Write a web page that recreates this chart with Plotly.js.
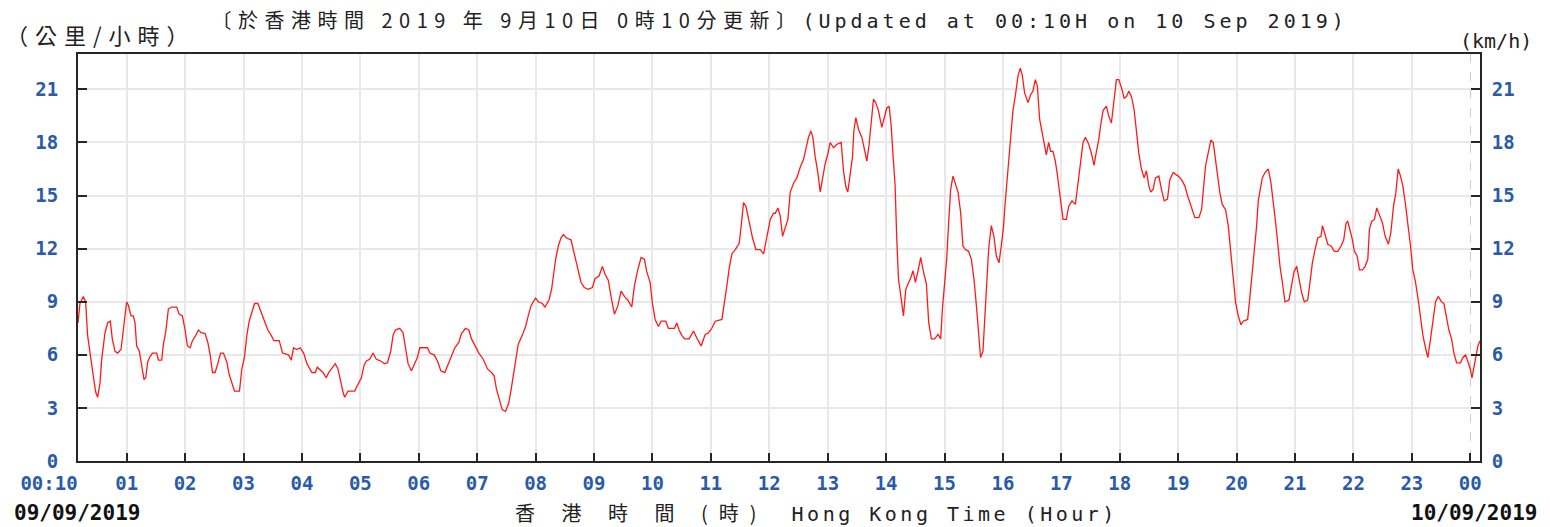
<!DOCTYPE html>
<html>
<head>
<meta charset="utf-8">
<script src="https://cdn.plot.ly/plotly-3.0.1.min.js"></script>
<style>
  html, body { margin: 0; padding: 0; background: #ffffff; }
  #chart { width: 1550px; height: 527px; }
</style>
</head>
<body>
<div id="chart"></div>
<script>
// Wind speed (km/h) vs Hong Kong time (decimal hours from 00:00 on 09/09/2019)
const hour00to04 = [[0.167,7.8],[0.2,8.9],[0.257,9.3],[0.297,9.0],[0.331,7.1],[0.383,6.0],[0.429,4.8],[0.469,3.9],[0.503,3.6],[0.543,4.4],[0.571,5.7],[0.629,7.25],[0.674,7.8],[0.72,7.9],[0.754,6.9],[0.8,6.2],[0.846,6.1],[0.903,6.3],[0.943,7.4],[0.971,8.4],[1.0,9.0],[1.029,8.8],[1.074,8.2],[1.114,8.2],[1.143,7.8],[1.171,6.5],[1.217,6.2],[1.257,5.4],[1.297,4.6],[1.326,4.7],[1.36,5.6],[1.4,5.9],[1.44,6.1],[1.514,6.1],[1.543,5.7],[1.6,5.7],[1.629,6.6],[1.669,7.3],[1.714,8.6],[1.771,8.7],[1.857,8.7],[1.897,8.3],[1.954,8.2],[2.0,7.4],[2.04,6.5],[2.086,6.4],[2.126,6.8],[2.183,7.1],[2.229,7.4],[2.274,7.25],[2.343,7.2],[2.389,6.7],[2.429,6.0],[2.469,5.0],[2.514,5.0],[2.56,5.5],[2.606,6.1],[2.657,6.1],[2.714,5.6],[2.754,4.9],[2.8,4.4],[2.846,3.95],[2.931,3.95],[2.971,5.2],[3.017,5.9],[3.057,7.1],[3.097,7.9],[3.143,8.4],[3.189,8.9],[3.246,8.9],[3.286,8.6],[3.326,8.2],[3.371,7.8],[3.417,7.4],[3.474,7.1],[3.52,6.8],[3.611,6.8],[3.669,6.1],[3.771,6.0],[3.817,5.7],[3.857,6.4],[3.914,6.3],[3.971,6.4],[4.029,6.1],[4.086,5.5],[4.171,5.0],[4.229,5.0]];
const hour04to08 = [[4.263,5.3],[4.36,5.0],[4.417,4.7],[4.457,5.0],[4.531,5.3],[4.571,5.5],[4.617,5.2],[4.663,4.4],[4.703,3.9],[4.731,3.6],[4.789,3.95],[4.903,3.95],[4.96,4.3],[5.017,4.7],[5.063,5.4],[5.103,5.65],[5.16,5.75],[5.217,6.1],[5.274,5.75],[5.349,5.65],[5.417,5.5],[5.463,5.55],[5.52,6.2],[5.56,7.1],[5.6,7.4],[5.674,7.5],[5.731,7.25],[5.771,6.5],[5.817,5.5],[5.874,5.1],[5.931,5.5],[5.977,5.85],[6.017,6.4],[6.074,6.4],[6.149,6.4],[6.189,6.1],[6.263,6.0],[6.32,5.65],[6.377,5.1],[6.446,5.0],[6.503,5.5],[6.56,6.0],[6.617,6.4],[6.686,6.7],[6.731,7.2],[6.8,7.5],[6.857,7.4],[6.903,6.9],[6.96,6.5],[7.029,6.1],[7.103,5.75],[7.177,5.2],[7.246,5.0],[7.291,4.8],[7.331,4.05],[7.371,3.6],[7.429,2.9],[7.486,2.8],[7.543,3.3],[7.589,4.2],[7.646,5.55],[7.703,6.6],[7.771,7.1],[7.829,7.6],[7.874,8.2],[7.92,8.75],[7.96,9.0],[8.0,9.2],[8.046,9.0],[8.114,8.9],[8.16,8.7]];
const hour08to12 = [[8.229,9.1],[8.274,9.7],[8.303,10.45],[8.343,11.4],[8.389,12.15],[8.434,12.6],[8.474,12.8],[8.531,12.6],[8.606,12.5],[8.646,11.95],[8.686,11.5],[8.731,10.8],[8.777,10.1],[8.834,9.8],[8.903,9.7],[8.971,9.8],[9.017,10.3],[9.086,10.45],[9.143,11.0],[9.189,10.55],[9.246,10.2],[9.291,9.3],[9.349,8.3],[9.406,8.75],[9.463,9.6],[9.52,9.3],[9.577,9.1],[9.646,8.7],[9.691,9.9],[9.749,10.8],[9.806,11.5],[9.863,11.4],[9.903,10.7],[9.96,10.1],[10.0,8.9],[10.046,8.0],[10.103,7.6],[10.149,7.9],[10.229,7.9],[10.274,7.5],[10.377,7.5],[10.417,7.8],[10.457,7.4],[10.503,7.1],[10.549,6.9],[10.629,6.9],[10.703,7.35],[10.76,6.95],[10.834,6.5],[10.903,7.15],[10.96,7.25],[11.017,7.5],[11.074,7.9],[11.189,8.0],[11.234,8.9],[11.274,9.9],[11.314,10.9],[11.36,11.7],[11.417,11.95],[11.486,12.3],[11.52,13.3],[11.56,14.6],[11.6,14.4],[11.657,13.5],[11.714,12.6],[11.771,11.95],[11.846,11.95],[11.903,11.7],[11.96,12.7],[12.017,13.65],[12.074,14.0]];
const hour12to16 = [[12.103,14.0],[12.148,14.3],[12.188,13.85],[12.228,12.7],[12.274,13.2],[12.319,13.65],[12.359,15.2],[12.416,15.7],[12.473,16.0],[12.53,16.6],[12.587,17.05],[12.627,17.7],[12.672,18.3],[12.712,18.65],[12.746,18.3],[12.786,17.2],[12.832,16.3],[12.872,15.2],[12.912,15.9],[12.957,16.8],[13.003,17.35],[13.043,18.0],[13.1,17.7],[13.157,17.9],[13.231,18.0],[13.271,16.4],[13.311,15.5],[13.345,15.2],[13.385,16.2],[13.425,17.2],[13.448,18.65],[13.482,19.4],[13.527,18.75],[13.584,18.3],[13.63,17.6],[13.67,16.95],[13.71,17.9],[13.744,19.3],[13.784,20.45],[13.823,20.25],[13.869,19.8],[13.926,18.85],[13.972,19.4],[14.012,19.95],[14.052,20.05],[14.086,19.0],[14.12,17.2],[14.154,15.6],[14.183,12.5],[14.212,10.3],[14.257,9.2],[14.297,8.2],[14.337,9.7],[14.382,10.0],[14.422,10.35],[14.462,10.75],[14.502,10.1],[14.547,10.75],[14.593,11.5],[14.633,10.8],[14.69,10.0],[14.73,7.8],[14.775,6.9],[14.832,6.9],[14.889,7.15],[14.934,6.9],[14.963,8.55],[15.003,10.1],[15.037,11.4],[15.071,13.45],[15.105,15.35],[15.145,16.1],[15.185,15.7],[15.231,15.2],[15.276,14.05],[15.316,12.15],[15.356,11.95],[15.413,11.85],[15.459,11.4],[15.504,10.3],[15.544,8.85],[15.584,7.25],[15.618,5.85],[15.658,6.2],[15.687,7.8],[15.727,10.3],[15.755,11.95],[15.801,13.3],[15.846,12.7],[15.886,11.6],[15.932,11.2],[15.972,12.15],[16.012,13.3],[16.029,14.2]];
const hour16to20 = [[16.069,15.8],[16.103,17.15],[16.131,18.45],[16.171,19.8],[16.211,20.6],[16.257,21.75],[16.297,22.2],[16.331,21.8],[16.371,20.8],[16.429,20.25],[16.474,20.7],[16.514,20.9],[16.554,21.55],[16.589,21.2],[16.629,19.3],[16.669,18.55],[16.714,17.8],[16.743,17.3],[16.783,18.0],[16.817,17.5],[16.857,17.5],[16.897,16.95],[16.931,16.2],[16.971,15.15],[17.0,14.4],[17.029,13.65],[17.086,13.65],[17.126,14.4],[17.183,14.7],[17.24,14.5],[17.286,15.7],[17.331,16.9],[17.371,18.0],[17.411,18.3],[17.469,17.9],[17.514,17.4],[17.56,16.7],[17.6,17.5],[17.64,18.15],[17.674,19.0],[17.714,19.8],[17.771,20.05],[17.811,19.5],[17.857,19.1],[17.903,20.45],[17.943,21.55],[17.983,21.55],[18.029,21.1],[18.074,20.5],[18.114,20.6],[18.154,20.9],[18.2,20.6],[18.246,19.85],[18.286,18.55],[18.326,17.4],[18.371,16.5],[18.417,16.0],[18.457,16.4],[18.497,15.55],[18.531,15.2],[18.571,15.35],[18.611,16.0],[18.669,16.1],[18.714,15.35],[18.76,14.7],[18.817,14.8],[18.857,15.9],[18.914,16.3],[19.0,16.1],[19.057,15.9],[19.114,15.55],[19.16,15.0],[19.2,14.6],[19.24,14.3],[19.286,13.75],[19.354,13.75],[19.4,14.2],[19.44,15.65],[19.469,16.7],[19.514,17.4],[19.56,18.15],[19.6,18.0],[19.629,17.2],[19.674,16.3],[19.714,15.15],[19.754,14.5],[19.811,14.2],[19.857,13.3]];
const hour20to24 = [[19.903,11.6],[19.943,10.1],[19.983,8.95],[20.029,8.2],[20.074,7.7],[20.114,7.9],[20.189,8.0],[20.229,9.3],[20.269,10.6],[20.314,11.95],[20.343,13.3],[20.371,14.7],[20.4,15.25],[20.44,16.0],[20.486,16.3],[20.543,16.5],[20.589,15.7],[20.629,14.7],[20.669,13.45],[20.703,12.35],[20.743,11.0],[20.783,10.1],[20.829,9.0],[20.897,9.1],[20.943,10.1],[20.983,10.7],[21.029,11.0],[21.069,10.3],[21.114,9.5],[21.16,9.0],[21.217,9.1],[21.257,10.1],[21.297,11.2],[21.343,11.95],[21.389,12.6],[21.446,12.7],[21.469,13.3],[21.514,12.8],[21.56,12.25],[21.617,12.15],[21.674,11.85],[21.731,11.85],[21.789,12.15],[21.834,12.5],[21.874,13.45],[21.903,13.55],[21.943,13.0],[21.983,12.5],[22.017,11.85],[22.063,11.6],[22.103,10.8],[22.154,10.8],[22.2,11.0],[22.246,11.4],[22.274,13.1],[22.314,13.55],[22.36,13.65],[22.4,14.3],[22.429,14.05],[22.457,13.75],[22.497,13.45],[22.543,12.7],[22.6,12.25],[22.64,12.9],[22.686,14.4],[22.726,15.15],[22.766,16.5],[22.806,16.1],[22.846,15.55],[22.891,14.5],[22.937,13.3],[22.977,12.15],[23.017,10.8],[23.063,10.1],[23.109,9.1],[23.149,8.2],[23.189,7.1],[23.234,6.4],[23.274,5.85],[23.32,6.9],[23.36,8.0],[23.406,9.0],[23.451,9.3],[23.509,9.0],[23.549,8.9],[23.589,8.2],[23.634,7.4],[23.68,6.9],[23.72,6.1],[23.766,5.55],[23.834,5.55],[23.874,5.85],[23.92,6.0],[23.966,5.55],[24.0,5.2],[24.029,4.7],[24.057,5.2],[24.097,6.1],[24.131,6.5],[24.167,6.8]];

const hourTickVals = [1,2,3,4,5,6,7,8,9,10,11,12,13,14,15,16,17,18,19,20,21,22,23];
const hourTickText = ['01','02','03','04','05','06','07','08','09','10','11','12','13','14','15','16','17','18','19','20','21','22','23'];
const midnightTickVals = [24];
const midnightTickText = ['00'];
const startTickVals = [0.1667];
const startTickText = ['00:10'];
const speedTickVals = [0,3,6,9,12,15,18,21];
const xRange = [0.1667, 24.1667];
const yRange = [0, 23];

const allPoints = [].concat(hour00to04, hour04to08, hour08to12, hour12to16, hour16to20, hour20to24);
const timeHours = allPoints.map(p => p[0]);
const windSpeed = allPoints.map(p => p[1]);

const tickBlue = '#2a5aa8';
const gridCol = '#e8e8e8';
const axisCol = '#262626';
const monoFont = 'DejaVu Sans Mono, Liberation Mono, monospace';
const cjkFont = 'Noto Sans CJK TC, Noto Sans CJK SC, sans-serif';

const hiddenLine = {color: 'rgba(0,0,0,0)', width: 0};
const traces = [
  {x: timeHours, y: windSpeed, type: 'scatter', mode: 'lines',
   line: {color: '#ff1a1a', width: 1.3}, xaxis: 'x', yaxis: 'y', hoverinfo: 'skip', showlegend: false},
  {x: timeHours, y: windSpeed, type: 'scatter', mode: 'lines',
   line: hiddenLine, xaxis: 'x2', yaxis: 'y2', hoverinfo: 'skip', showlegend: false},
  {x: timeHours, y: windSpeed, type: 'scatter', mode: 'lines',
   line: hiddenLine, xaxis: 'x3', yaxis: 'y', hoverinfo: 'skip', showlegend: false}
];

const tickFont = {family: monoFont, size: 19, color: tickBlue, weight: 'bold'};
const xCommon = {
  range: xRange, tickmode: 'array', tickangle: 0, tickfont: tickFont,
  ticks: 'inside', ticklen: 8, tickwidth: 2, tickcolor: axisCol,
  showline: true, linecolor: axisCol, linewidth: 2,
  zeroline: false, fixedrange: true, ticklabelstandoff: 4
};

const layout = {
  width: 1550, height: 527,
  margin: {l: 78, r: 70, t: 54, b: 66, pad: 0},
  paper_bgcolor: '#ffffff', plot_bgcolor: '#ffffff',
  showlegend: false,
  title: {
    text: '<span style="font-family:Noto Sans CJK TC;letter-spacing:6.5px">〔於香港時間 2019 年 9月10日 0時10分更新〕</span>' +
          '<span style="font-family:DejaVu Sans Mono;letter-spacing:4px">(Updated at 00:10H on 10 Sep 2019)</span>',
    font: {family: monoFont, size: 20, color: '#222222'},
    x: 0.503, xref: 'container', xanchor: 'center',
    y: 0.96, yref: 'container', yanchor: 'middle'
  },
  xaxis: Object.assign({}, xCommon, {
    tickvals: hourTickVals, ticktext: hourTickText,
    showgrid: true, gridcolor: gridCol, gridwidth: 2, mirror: true
  }),
  xaxis2: Object.assign({}, xCommon, {
    overlaying: 'x', anchor: 'y', side: 'bottom',
    tickvals: midnightTickVals, ticktext: midnightTickText,
    showgrid: true, gridcolor: '#cfcfcf', gridwidth: 1.5, griddash: 'dash'
  }),
  xaxis3: Object.assign({}, xCommon, {
    overlaying: 'x', anchor: 'y', side: 'bottom',
    tickvals: startTickVals, ticktext: startTickText,
    ticks: '', showgrid: false, ticklabelshift: -29
  }),
  yaxis: {
    range: yRange, tickmode: 'array', tickvals: speedTickVals,
    tickfont: tickFont,
    ticks: 'inside', ticklen: 9, tickwidth: 2, tickcolor: axisCol,
    showgrid: true, gridcolor: gridCol, gridwidth: 2,
    showline: true, linecolor: axisCol, linewidth: 2, mirror: true,
    zeroline: false, fixedrange: true, ticklabelstandoff: 14
  },
  yaxis2: {
    overlaying: 'y', anchor: 'x', side: 'right',
    range: yRange, tickmode: 'array', tickvals: speedTickVals,
    tickfont: tickFont,
    ticks: 'inside', ticklen: 9, tickwidth: 2, tickcolor: axisCol,
    showgrid: false, showline: true, linecolor: axisCol, linewidth: 2,
    zeroline: false, fixedrange: true, ticklabelstandoff: 6
  },
  annotations: [
    {
      text: '<span style="letter-spacing:7px">（公里/小時）</span>', xref: 'paper', yref: 'paper',
      x: (4 - 78) / 1402, y: (461 - 34) / 407, xanchor: 'left', yanchor: 'middle',
      showarrow: false, font: {family: cjkFont, size: 22, color: '#222222'}
    },
    {
      text: '(km/h)', xref: 'paper', yref: 'paper',
      x: (1458 - 78) / 1402, y: (461 - 41) / 407, xanchor: 'left', yanchor: 'middle',
      showarrow: false, font: {family: monoFont, size: 20, color: '#222222'}
    },
    {
      text: '09/09/2019', xref: 'paper', yref: 'paper',
      x: (12 - 78) / 1402, y: (461 - 513) / 407, xanchor: 'left', yanchor: 'middle',
      showarrow: false, font: {family: monoFont, size: 21, color: '#111111', weight: 'bold'}
    },
    {
      text: '10/09/2019', xref: 'paper', yref: 'paper',
      x: (1539 - 78) / 1402, y: (461 - 513) / 407, xanchor: 'right', yanchor: 'middle',
      showarrow: false, font: {family: monoFont, size: 21, color: '#111111', weight: 'bold'}
    },
    {
      text: '<span style="font-family:Noto Sans CJK TC;letter-spacing:11px">香 港 時 間 (時)</span>\u00a0\u00a0' +
            '<span style="letter-spacing:3.5px">Hong Kong Time (Hour)</span>',
      xref: 'paper', yref: 'paper',
      x: (816 - 78) / 1402, y: (461 - 512) / 407, xanchor: 'center', yanchor: 'middle',
      showarrow: false, font: {family: monoFont, size: 20, color: '#222222'}
    }
  ]
};

Plotly.newPlot('chart', traces, layout, {staticPlot: true, displayModeBar: false});
</script>
</body>
</html>
